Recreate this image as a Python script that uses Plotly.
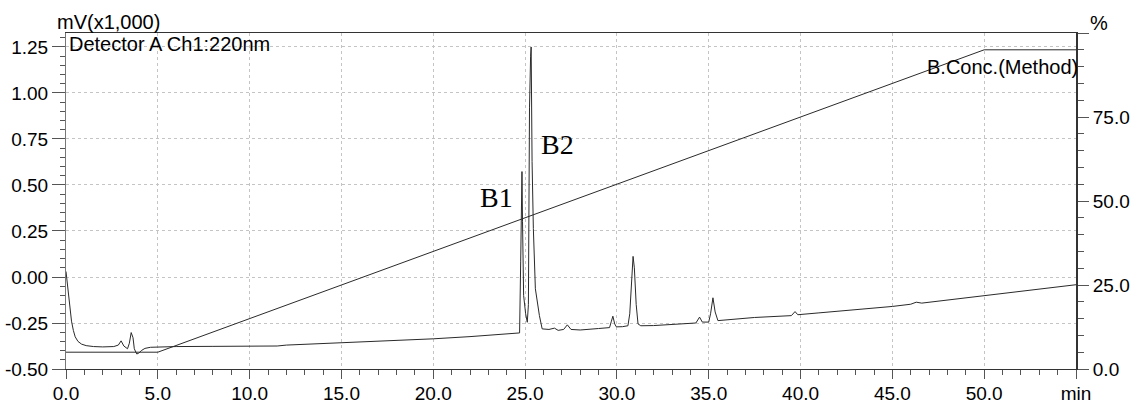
import plotly.graph_objects as go

# Detector A Ch1:220nm signal (mV x1,000) vs time (min)
det_time = [0.0, 0.05, 0.12, 0.2, 0.3, 0.4, 0.5, 0.65, 0.85, 1.1, 1.5, 2.0, 2.6, 2.85, 3.0, 3.15,
            3.35, 3.45, 3.55, 3.65, 3.72, 3.85, 3.95, 4.1, 4.3, 4.6, 5.0, 6.0, 8.0, 10.0, 11.5, 12.0,
            13.0, 15.0, 18.0, 20.0, 22.0, 24.0, 24.6, 24.7, 24.76, 24.8, 24.83, 24.86, 24.92, 25.03,
            25.12, 25.18, 25.24, 25.3, 25.33, 25.38, 25.45, 25.56, 25.64, 25.69, 25.78, 25.93,
            26.3, 26.6, 26.8, 27.1, 27.3, 27.5, 28.0, 29.0, 29.6, 29.7, 29.78, 29.88, 29.97, 30.3,
            30.6, 30.7, 30.8, 30.88, 30.95, 31.05, 31.15, 31.3, 32.0, 33.0, 34.0, 34.3, 34.5, 34.65,
            35.0, 35.1, 35.23, 35.35, 35.5, 36.0, 36.7, 37.5, 38.5, 39.5, 39.7, 39.85, 41.0, 42.5,
            44.0, 45.0, 46.0, 46.3, 46.6, 48.0, 50.0, 52.0, 53.5, 55.0]
det_signal = [0.03, -0.02, -0.10, -0.17, -0.24, -0.29, -0.325, -0.35, -0.365, -0.373, -0.378, -0.38,
              -0.378, -0.37, -0.347, -0.375, -0.39, -0.36, -0.302, -0.33, -0.39, -0.418, -0.415, -0.40,
              -0.388, -0.382, -0.38, -0.378, -0.377, -0.376, -0.375, -0.37, -0.366, -0.358, -0.345,
              -0.336, -0.324, -0.31, -0.305, -0.304, 0.082, 0.40, 0.573, 0.30, -0.10, -0.20,
              -0.246, -0.15, 0.919, 1.20, 1.25, 0.628, 0.264, -0.064, -0.118, -0.127, -0.21, -0.282,
              -0.285, -0.278, -0.29, -0.285, -0.26, -0.285, -0.288, -0.28, -0.275, -0.24, -0.213,
              -0.255, -0.271, -0.27, -0.265, -0.20, 0.0, 0.112, 0.05, -0.15, -0.255, -0.265, -0.264,
              -0.258, -0.254, -0.25, -0.218, -0.245, -0.245, -0.20, -0.113, -0.19, -0.237, -0.232,
              -0.224, -0.22, -0.215, -0.21, -0.188, -0.205, -0.195, -0.182, -0.17, -0.16, -0.148,
              -0.137, -0.142, -0.125, -0.10, -0.075, -0.058, -0.042]

# B.Conc.(Method) gradient (%)
grad_time = [0.0, 5.0, 50.0, 55.0]
grad_conc = [5.0, 5.0, 95.0, 95.0]

x_tickvals = [0, 5, 10, 15, 20, 25, 30, 35, 40, 45, 50, 55]
x_ticktext = ["0.0", "5.0", "10.0", "15.0", "20.0", "25.0", "30.0", "35.0", "40.0", "45.0", "50.0", "min"]
y_tickvals = [-0.5, -0.25, 0.0, 0.25, 0.5, 0.75, 1.0, 1.25]
y_ticktext = ["-0.50", "-0.25", "0.00", "0.25", "0.50", "0.75", "1.00", "1.25"]
y2_tickvals = [0, 25, 50, 75, 100]
y2_ticktext = ["0.0", "25.0", "50.0", "75.0", ""]

peak_labels = ["B1", "B2"]
peak_label_x = [23.45, 26.79]
peak_label_y = [0.433, 0.718]

FONT = "Liberation Sans, Arial, sans-serif"
FS = 20
TFS = 19

fig = go.Figure()
fig.add_trace(go.Scatter(x=det_time, y=det_signal, mode="lines",
                         line=dict(color="#2a2a2a", width=1), yaxis="y", showlegend=False))
fig.add_trace(go.Scatter(x=grad_time, y=grad_conc, mode="lines",
                         line=dict(color="#2a2a2a", width=1), yaxis="y2", showlegend=False))

for lab, lx, ly in zip(peak_labels, peak_label_x, peak_label_y):
    fig.add_annotation(x=lx, y=ly, xref="x", yref="y", text=lab, showarrow=False,
                       font=dict(family="Liberation Serif, Times New Roman, serif", size=28, color="black"),
                       xanchor="center", yanchor="middle")

fig.add_annotation(x=-0.011, y=1.033, xref="paper", yref="paper", text="mV(x1,000)", showarrow=False,
                   font=dict(family=FONT, size=FS, color="black"), xanchor="left", yanchor="middle")
fig.add_annotation(x=1.012, y=1.03, xref="paper", yref="paper", text="%", showarrow=False,
                   font=dict(family=FONT, size=FS, color="black"), xanchor="left", yanchor="middle")
fig.add_annotation(x=0.001, y=0.966, xref="paper", yref="paper", text="Detector A Ch1:220nm", showarrow=False,
                   font=dict(family=FONT, size=FS, color="black"), xanchor="left", yanchor="middle")
fig.add_annotation(x=1.004, y=0.899, xref="paper", yref="paper", text="B.Conc.(Method)", showarrow=False,
                   font=dict(family=FONT, size=FS, color="black"), xanchor="right", yanchor="middle")

grid = dict(showgrid=True, gridcolor="#c4c4c4", gridwidth=1, griddash="3px,3px")

fig.update_layout(
    width=1130, height=403,
    margin=dict(l=66, r=54, t=33, b=34, autoexpand=False),
    paper_bgcolor="white", plot_bgcolor="white",
    font=dict(family=FONT, size=FS, color="black"),
    xaxis=dict(range=[0, 55], tickmode="array", tickvals=x_tickvals, ticktext=x_ticktext,
               ticks="outside", ticklen=9, tickcolor="#555", tickwidth=1, ticklabelstandoff=-2,
               showline=True, linecolor="#333", linewidth=1, mirror=True,
               zeroline=False, tickfont=dict(size=TFS), automargin=False,
               minor=dict(tickmode="linear", tick0=0, dtick=1, ticks="outside", ticklen=5,
                          tickcolor="#555", showgrid=False),
               **grid),
    yaxis=dict(range=[-0.5, 1.326], tickmode="array", tickvals=y_tickvals, ticktext=y_ticktext,
               ticks="outside", ticklen=13, tickcolor="#555", tickwidth=1,
               showline=True, linecolor="#777", linewidth=1,
               zeroline=False, tickfont=dict(size=TFS), automargin=False,
               minor=dict(tickmode="linear", tick0=-0.5, dtick=0.05, ticks="outside", ticklen=5,
                          tickcolor="#555", showgrid=False),
               **grid),
    yaxis2=dict(range=[0, 100], overlaying="y", side="right", tickmode="array",
                tickvals=y2_tickvals, ticktext=y2_ticktext,
                ticks="outside", ticklen=11, tickcolor="#555", tickwidth=1,
                showline=True, linecolor="#333", linewidth=2, showgrid=False, zeroline=False,
                tickfont=dict(size=TFS), automargin=False,
                minor=dict(tickmode="linear", tick0=0, dtick=5, ticks="outside", ticklen=6,
                           tickcolor="#555", showgrid=False)),
)

fig.write_html("out.html", config={"displayModeBar": False},
               post_script="document.body.style.margin='0';document.body.style.overflow='hidden';")
